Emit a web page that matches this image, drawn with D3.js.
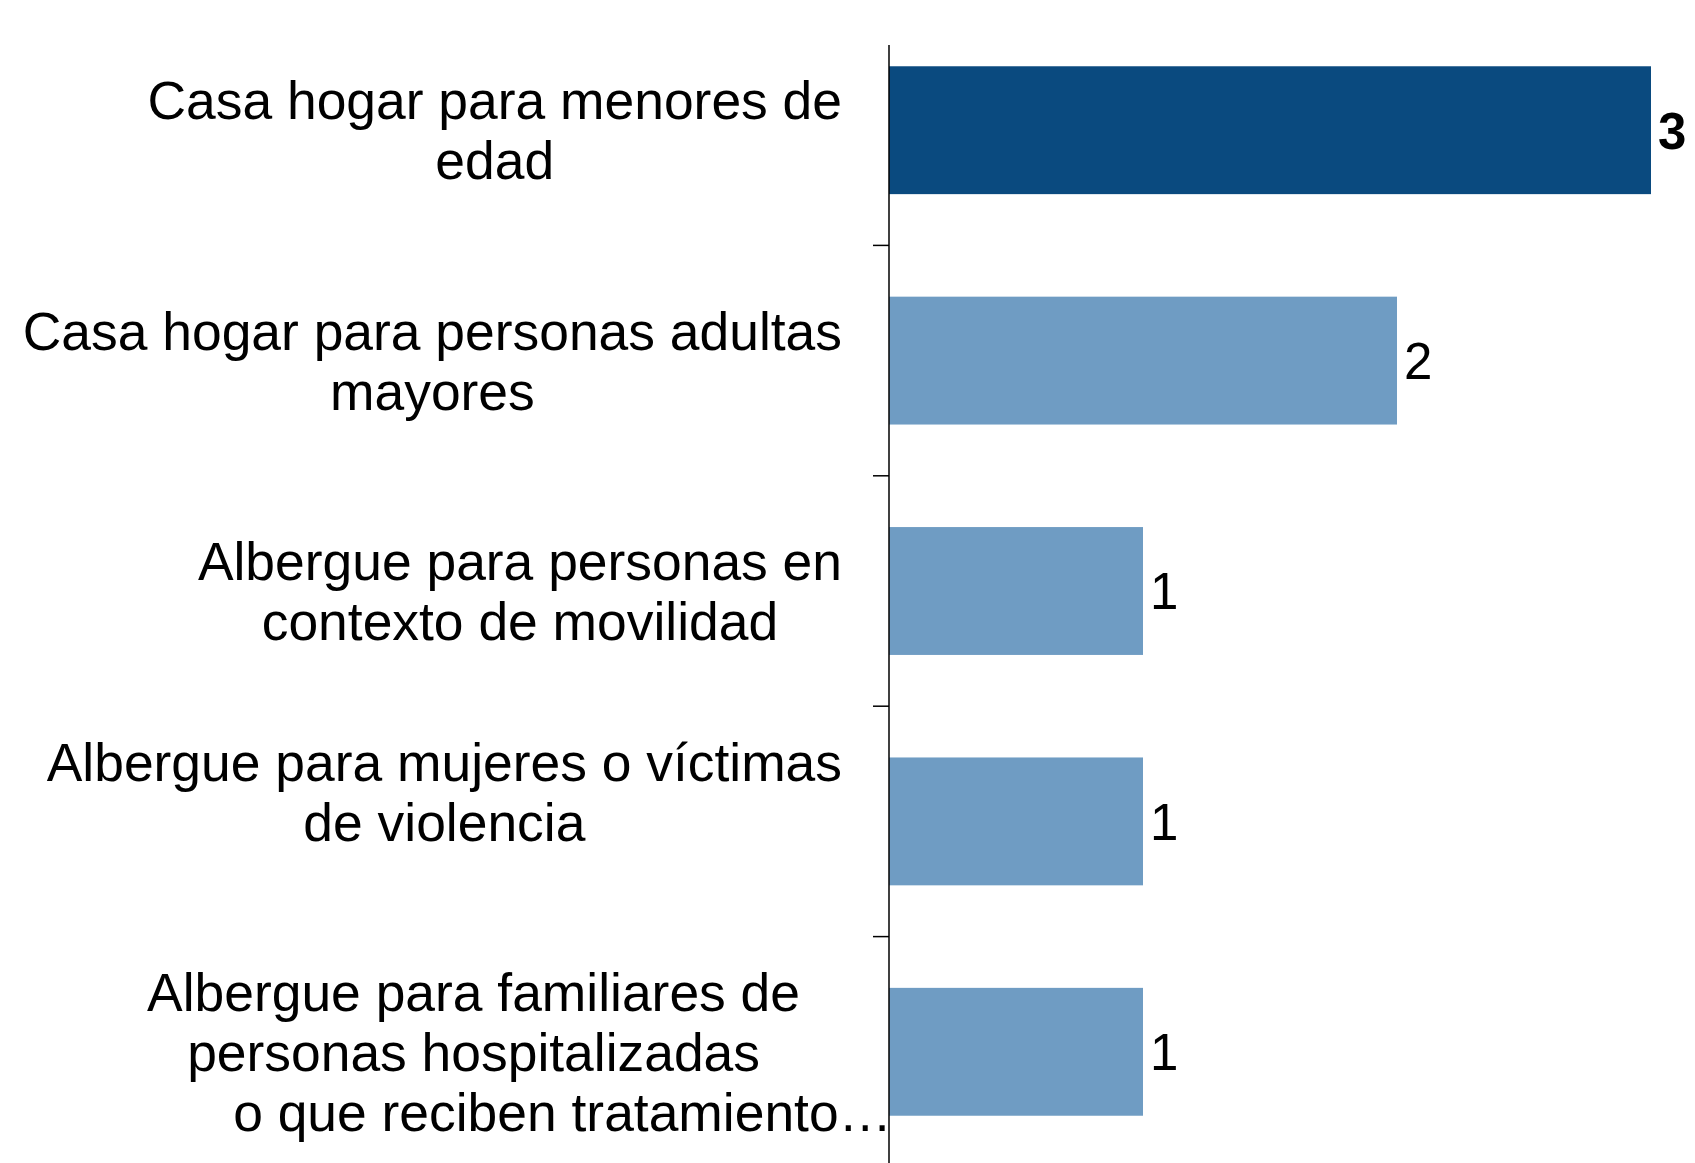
<!DOCTYPE html>
<html>
<head>
<meta charset="utf-8">
<script src="https://cdn.jsdelivr.net/npm/d3@7"></script>
<style>
  html, body { margin: 0; padding: 0; background: #fff; }
  svg { display: block; }
  text { font-family: "Liberation Sans", Arial, sans-serif; fill: #000; }
</style>
</head>
<body>
<svg id="chart" width="1695" height="1163"></svg>
<script>
// ---- data ----
const categories = [
  "Casa hogar para menores de edad",
  "Casa hogar para personas adultas mayores",
  "Albergue para personas en contexto de movilidad",
  "Albergue para mujeres o víctimas de violencia",
  "Albergue para familiares de personas hospitalizadas o que reciben tratamiento…"
];
const labelLines = [
  ["Casa hogar para menores de", "edad"],
  ["Casa hogar para personas adultas", "mayores"],
  ["Albergue para personas en", "contexto de movilidad"],
  ["Albergue para mujeres o víctimas", "de violencia", ""],
  ["Albergue para familiares de", "personas hospitalizadas", "            o que reciben tratamiento…"]
];
const values = [3, 2, 1, 1, 1];
const highlight = [true, false, false, false, false];

// ---- layout ----
const W = 1695, H = 1163;
const axisX = 889;
const svg = d3.select("#chart");

const y = d3.scaleBand()
  .domain(categories)
  .range([15, 1167])
  .paddingInner(0.445)
  .paddingOuter(0.2225);

const x = d3.scaleLinear().domain([0, 3]).range([axisX, 1651]);

// bars
svg.append("g").selectAll("rect")
  .data(categories)
  .join("rect")
  .attr("x", x(0))
  .attr("y", d => y(d))
  .attr("width", (d, i) => x(values[i]) - x(0))
  .attr("height", y.bandwidth())
  .attr("fill", (d, i) => highlight[i] ? "#0A4A7F" : "#6F9CC3");

// axis line and ticks
const step = y.step();
const boundaries = categories.slice(1).map(d => y(d) - y.paddingInner() * step / 2);
const ax = svg.append("g");
ax.append("line")
  .attr("x1", axisX).attr("x2", axisX)
  .attr("y1", 45).attr("y2", H)
  .attr("stroke", "#000").attr("stroke-width", 1.5);
ax.selectAll("line.tick")
  .data(boundaries)
  .join("line")
  .attr("class", "tick")
  .attr("x1", axisX - 16).attr("x2", axisX)
  .attr("y1", d => d).attr("y2", d => d)
  .attr("stroke", "#000").attr("stroke-width", 1.5);

// value labels
svg.append("g").selectAll("text")
  .data(categories)
  .join("text")
  .attr("x", (d, i) => x(values[i]) + 7)
  .attr("y", d => y(d) + y.bandwidth() / 2)
  .attr("dy", "0.36em")
  .attr("font-size", 51)
  .attr("font-weight", (d, i) => highlight[i] ? "bold" : "normal")
  .text((d, i) => values[i]);

// category labels: lines centered within block, block right-aligned
const labelRight = 842;
const lineH = 60;
const fs = 53.4;
const lg = svg.append("g");
categories.forEach((c, i) => {
  const lines = labelLines[i];
  const cy = y(c) + y.bandwidth() / 2;
  const g = lg.append("g");
  const texts = lines.map((t, k) =>
    g.append("text")
      .attr("xml:space", "preserve")
      .style("white-space", "pre")
      .attr("font-size", fs)
      .attr("text-anchor", "middle")
      .attr("y", cy + (k - (lines.length - 1) / 2) * lineH)
      .attr("dy", "0.36em")
      .text(t)
  );
  const maxW = d3.max(texts, t => t.node().getComputedTextLength());
  let center = labelRight - maxW / 2;
  // the last label in the reference overflows to the right, up to the axis
  if (maxW > 825) center = axisX + 3 - maxW / 2;
  texts.forEach(t => t.attr("x", center));
});
</script>
</body>
</html>
